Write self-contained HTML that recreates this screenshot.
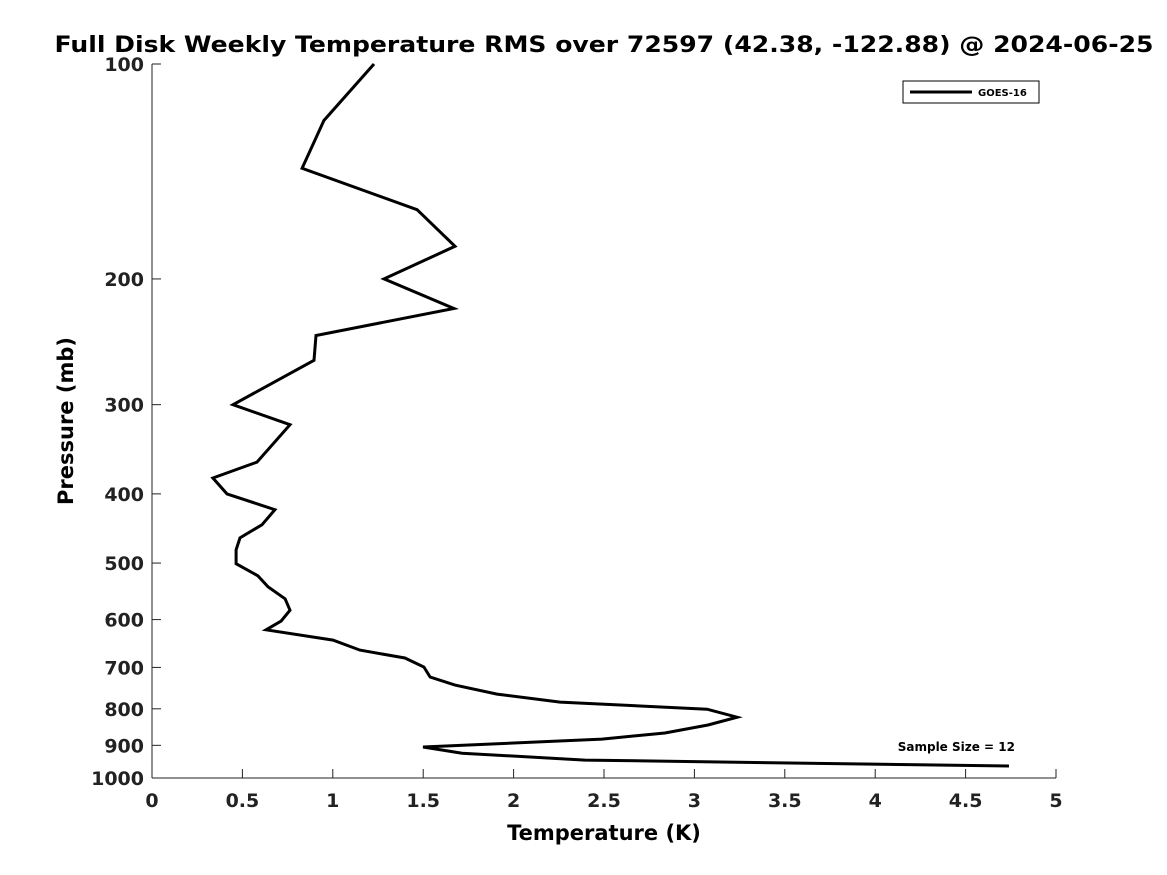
<!DOCTYPE html>
<html><head><meta charset="utf-8"><style>
html,body{margin:0;padding:0;background:#fff;}
svg{display:block;font-family:"DejaVu Sans","Liberation Sans",sans-serif;}
</style></head><body>
<svg id="chart" width="1167" height="875" viewBox="0 0 1167 875">
<rect width="1167" height="875" fill="#fff"/>
<text x="604" y="52" text-anchor="middle" font-size="22" font-weight="bold" textLength="1099" lengthAdjust="spacingAndGlyphs">Full Disk Weekly Temperature RMS over 72597 (42.38, -122.88) @ 2024-06-25</text>
<g id="axes"></g>
<g id="series"></g>
<g>
<rect x="903" y="81" width="136" height="22" fill="#fff" stroke="#000" stroke-width="1"/>
<line x1="910" y1="92" x2="972" y2="92" stroke="#000" stroke-width="3"/>
<text x="978" y="96" font-size="10" font-weight="bold">GOES-16</text>
</g>
<text x="1015" y="751" text-anchor="end" font-size="12" font-weight="bold">Sample Size = 12</text>
<text x="604" y="840" text-anchor="middle" font-size="21" font-weight="bold">Temperature (K)</text>
<text transform="translate(73,421) rotate(-90)" text-anchor="middle" font-size="21" font-weight="bold">Pressure (mb)</text>
</svg>
<script>
const xTicks = [0,0.5,1,1.5,2,2.5,3,3.5,4,4.5,5];
const xTickLabels = ["0","0.5","1","1.5","2","2.5","3","3.5","4","4.5","5"];
const yTicks = [100,200,300,400,500,600,700,800,900,1000];
const yTickLabels = ["100","200","300","400","500","600","700","800","900","1000"];
const pressures = [100,120,140,160,180,200,220,240,260,300,320,361,380,400,421,442,461,479,501,521,540,561,582,603,620,641,662,679,699,722,741,763,783,801,822,843,865,882,905,923,944,962];
const rmsGoes16 = [1.228,0.951,0.830,1.466,1.676,1.283,1.670,0.907,0.896,0.448,0.763,0.581,0.337,0.415,0.680,0.608,0.487,0.465,0.465,0.586,0.642,0.736,0.763,0.714,0.631,1.001,1.150,1.399,1.504,1.538,1.676,1.908,2.257,3.070,3.236,3.075,2.837,2.489,1.499,1.715,2.395,4.740];

const L=152,R=1056,T=64,B=778;
const xS=v=>L+(v-0)/(5-0)*(R-L);
const yS=p=>T+(Math.log10(p)-2)/(3-2)*(B-T);
const NS="http://www.w3.org/2000/svg";
const axes=document.getElementById('axes');
function mk(tag,attrs,parent){const e=document.createElementNS(NS,tag);for(const k in attrs)e.setAttribute(k,attrs[k]);parent.appendChild(e);return e;}

const xa=mk('line',{x1:L,y1:B,x2:R,y2:B,stroke:'#222','stroke-width':1},axes);


const ya=mk('line',{x1:L,y1:T,x2:L,y2:B,stroke:'#222','stroke-width':1},axes);



xTicks.forEach((v,i)=>{
  const x=xS(v);
  const t=mk('line',{x1:x,y1:B,x2:x,y2:B-9,stroke:'#222','stroke-width':1},axes);
  
  
  const lb=mk('text',{x:x,y:B+29,'text-anchor':'middle','font-size':19,'font-weight':'bold',fill:'#222'},axes);
  lb.textContent=xTickLabels[i];
  
  
});
yTicks.forEach((p,i)=>{
  const y=yS(p);
  const t=mk('line',{x1:L,y1:y,x2:L+9,y2:y,stroke:'#222','stroke-width':1},axes);
  
  
  const lb=mk('text',{x:L-8,y:y+7,'text-anchor':'end','font-size':19,'font-weight':'bold',fill:'#222'},axes);
  lb.textContent=yTickLabels[i];
  
  
});

const pts=pressures.map((p,i)=>xS(rmsGoes16[i]).toFixed(1)+','+yS(p).toFixed(1)).join(' ');
const line=mk('polyline',{points:pts,fill:'none',stroke:'#000','stroke-width':3,'stroke-linejoin':'miter'},document.getElementById('series'));


</script>
</body></html>
